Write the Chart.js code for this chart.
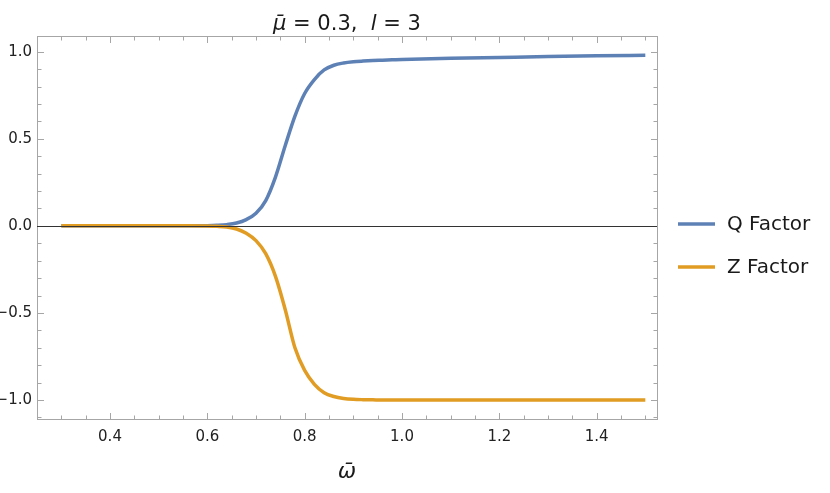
<!DOCTYPE html>
<html>
<head>
<meta charset="utf-8">
<script src="https://cdn.jsdelivr.net/npm/chart.js@4/dist/chart.umd.min.js"></script>
<style>
  html, body { margin: 0; padding: 0; background: #ffffff; }
  #wrap { width: 830px; height: 493px; }
</style>
</head>
<body>
<div id="wrap"><canvas id="c" width="830" height="493"></canvas></div>
<script>
// ---- data ----
const omega   = [0.30,0.40,0.50,0.56,0.60,0.62,0.64,0.66,0.68,0.70,0.72,0.74,0.76,0.78,0.80,0.82,0.84,0.86,0.88,0.90,0.92,0.94,0.96,0.98,1.00,1.10,1.20,1.30,1.40,1.50];
const qFactor = [0,0,0,0,0.001,0.003,0.007,0.016,0.036,0.072,0.145,0.28,0.46,0.63,0.76,0.84,0.895,0.922,0.935,0.942,0.946,0.949,0.951,0.953,0.955,0.962,0.967,0.972,0.976,0.979];
const zFactor = [0,0,0,0,-0.001,-0.003,-0.007,-0.018,-0.042,-0.085,-0.16,-0.29,-0.48,-0.70,-0.83,-0.91,-0.958,-0.98,-0.991,-0.996,-0.998,-0.999,-1,-1,-1,-1,-1,-1,-1,-1];
const seriesNames = ['Q Factor', 'Z Factor'];
const xTickLabels = [0.4, 0.6, 0.8, 1.0, 1.2, 1.4];
const yTickLabels = [-1.0, -0.5, 0.0, 0.5, 1.0];
const titleParts = [['\u03BC\u0304', true], [' = 0.3,  ', false], ['l', true], [' = 3', false]];
const xAxisTitle = '\u03C9\u0304';

const COLORS = ['#5E81B5', '#E19C24'];
const FONT = '"DejaVu Sans", sans-serif';

function fmt(v) {
  return v.toFixed(1).replace('-', '\u2212');
}

function minorList(a, b, step) {
  const out = [];
  for (let v = a; v <= b + 1e-9; v += step) out.push(Math.round(v * 1000) / 1000);
  return out;
}

const framePlugin = {
  id: 'frame',
  beforeDatasetsDraw(chart) {
    const ctx = chart.ctx;
    const a = chart.chartArea;
    const xs = chart.scales.x, ys = chart.scales.y;
    ctx.save();
    ctx.strokeStyle = '#a6a6a6';
    ctx.lineWidth = 1;
    const L = Math.round(a.left) + 0.5, R = Math.round(a.right) + 0.5;
    const T = Math.round(a.top) + 0.5, B = Math.round(a.bottom) + 0.5;
    ctx.strokeRect(L, T, R - L, B - T);
    ctx.beginPath();
    const xMinor = minorList(0.25, 1.5, 0.05);
    xMinor.forEach(v => {
      const isMajor = xTickLabels.some(t => Math.abs(t - v) < 1e-6);
      const len = isMajor ? 6.5 : 4;
      const px = Math.round(xs.getPixelForValue(v)) + 0.5;
      ctx.moveTo(px, B); ctx.lineTo(px, B - len);
      ctx.moveTo(px, T); ctx.lineTo(px, T + len);
    });
    const yMinor = minorList(-1.1, 1.0, 0.1);
    yMinor.forEach(v => {
      const isMajor = yTickLabels.some(t => Math.abs(t - v) < 1e-6);
      const len = isMajor ? 6.5 : 4;
      const py = Math.round(ys.getPixelForValue(v)) + 0.5;
      ctx.moveTo(L, py); ctx.lineTo(L + len, py);
      ctx.moveTo(R, py); ctx.lineTo(R - len, py);
    });
    ctx.stroke();
    ctx.restore();
  },
  afterDatasetsDraw(chart) {
    const ctx = chart.ctx;
    const a = chart.chartArea;
    const ys = chart.scales.y;
    const py = Math.round(ys.getPixelForValue(0)) + 0.5;
    ctx.save();
    ctx.strokeStyle = '#333333';
    ctx.lineWidth = 1;
    ctx.beginPath();
    ctx.moveTo(a.left, py); ctx.lineTo(a.right, py);
    ctx.stroke();
    ctx.restore();
  },
  afterDraw(chart) {
    const ctx = chart.ctx;
    const a = chart.chartArea;
    const cx = (a.left + a.right) / 2;
    ctx.save();
    ctx.fillStyle = '#1a1a1a';
    ctx.textBaseline = 'alphabetic';
    const size = 21;
    let total = 0;
    const widths = titleParts.map(([t, it]) => {
      ctx.font = (it ? 'italic ' : '') + size + 'px ' + FONT;
      const w = ctx.measureText(t).width;
      total += w;
      return w;
    });
    let x = cx - total / 2;
    titleParts.forEach(([t, it], i) => {
      ctx.font = (it ? 'italic ' : '') + size + 'px ' + FONT;
      ctx.textAlign = 'left';
      ctx.fillText(t, x, 30);
      x += widths[i];
    });
    ctx.font = 'italic 22px ' + FONT;
    ctx.textAlign = 'center';
    ctx.fillText(xAxisTitle, cx, 478);
    const legendY = [224, 267];
    chart.data.datasets.forEach((ds, i) => {
      ctx.strokeStyle = ds.borderColor;
      ctx.lineWidth = 3.5;
      ctx.beginPath();
      ctx.moveTo(678, legendY[i]); ctx.lineTo(715, legendY[i]);
      ctx.stroke();
      ctx.font = '20px ' + FONT;
      ctx.textAlign = 'left';
      ctx.textBaseline = 'middle';
      ctx.fillStyle = '#1a1a1a';
      ctx.fillText(ds.label, 727, legendY[i] + 1);
    });
    ctx.restore();
  }
};

new Chart(document.getElementById('c'), {
  type: 'line',
  data: {
    datasets: [
      { label: seriesNames[0], data: omega.map((w, i) => ({ x: w, y: qFactor[i] })), borderColor: COLORS[0], order: 1 },
      { label: seriesNames[1], data: omega.map((w, i) => ({ x: w, y: zFactor[i] })), borderColor: COLORS[1], order: 0 }
    ]
  },
  options: {
    responsive: false,
    animation: false,
    events: [],
    layout: { padding: { left: 0, right: 173, top: 36, bottom: 0 } },
    elements: {
      point: { radius: 0 },
      line: { borderWidth: 3.5, cubicInterpolationMode: 'monotone', fill: false, borderCapStyle: 'butt' }
    },
    plugins: { legend: { display: false }, title: { display: false }, tooltip: { enabled: false } },
    scales: {
      x: {
        type: 'linear', min: 0.25, max: 1.524,
        grid: { display: false, drawTicks: false },
        border: { display: false },
        afterBuildTicks: s => { s.ticks = xTickLabels.map(v => ({ value: v })); },
        afterFit: s => { s.height = 74; },
        ticks: { padding: 9, color: '#222222', font: { family: FONT, size: 15 }, callback: v => fmt(v), autoSkip: false, maxRotation: 0 }
      },
      y: {
        type: 'linear', min: -1.109, max: 1.09,
        grid: { display: false, drawTicks: false },
        border: { display: false },
        afterBuildTicks: s => { s.ticks = yTickLabels.map(v => ({ value: v })); },
        afterFit: s => { s.width = 37; },
        ticks: { padding: 5, color: '#222222', font: { family: FONT, size: 15 }, callback: v => fmt(v), autoSkip: false }
      }
    }
  },
  plugins: [framePlugin]
});
</script>
</body>
</html>
